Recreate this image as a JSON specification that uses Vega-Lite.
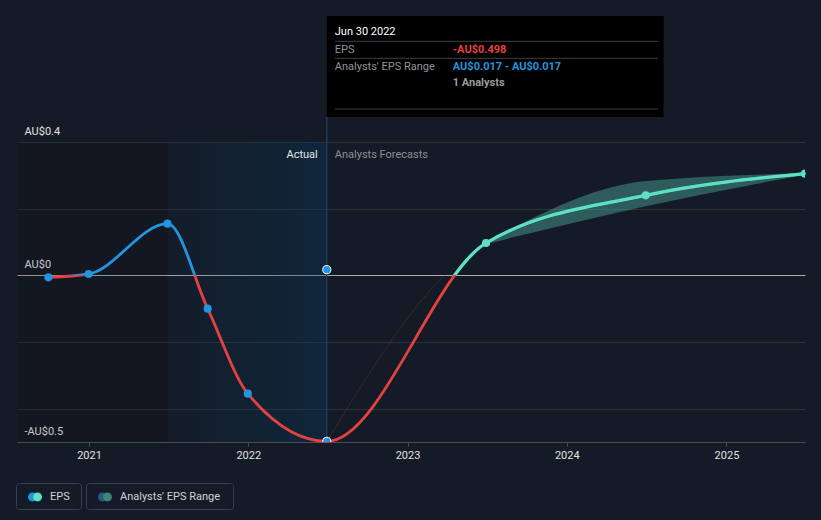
{
  "$schema": "https://vega.github.io/schema/vega-lite/v6.json",
  "width": 788,
  "height": 300,
  "autosize": {"type": "none"},
  "padding": {"left": 17, "top": 142, "right": 16, "bottom": 78},
  "background": "#151b26",
  "config": {"view": {"stroke": null}, "font": "Roboto"},
  "datasets": {
    "eps": [
      {"date": "2020-09-30", "eps": -0.006, "kind": "Actual"},
      {"date": "2020-12-31", "eps": 0.004, "kind": "Actual"},
      {"date": "2021-06-30", "eps": 0.155, "kind": "Actual"},
      {"date": "2021-09-30", "eps": -0.1, "kind": "Actual"},
      {"date": "2021-12-31", "eps": -0.355, "kind": "Actual"},
      {"date": "2022-06-30", "eps": -0.498, "kind": "Actual"},
      {"date": "2023-06-30", "eps": 0.097, "kind": "Forecast"},
      {"date": "2024-06-30", "eps": 0.24, "kind": "Forecast"},
      {"date": "2025-06-30", "eps": 0.305, "kind": "Forecast"}
    ],
    "range": [
      {"date": "2022-06-30", "low": -0.498, "high": -0.498},
      {"date": "2023-06-30", "low": 0.094, "high": 0.1},
      {"date": "2024-06-30", "low": 0.207, "high": 0.283},
      {"date": "2025-06-30", "low": 0.302, "high": 0.306}
    ],
    "est": [
      {"date": "2022-06-30", "eps": 0.017}
    ]
  },
  "data": {"name": "est"},
  "encoding": {
    "x": {
      "field": "date", "type": "temporal", "title": null,
      "scale": {"type": "utc", "domain": [{"year": 2020, "month": 7, "date": 20, "utc": true}, {"year": 2025, "month": 6, "date": 30, "utc": true}]},
      "axis": {"format": "%Y", "tickCount": "year", "domainColor": "#474c54", "tickColor": "#474c54", "tickSize": 4, "labelPadding": 3, "labelColor": "#e2e2e2", "labelFontSize": 11, "grid": false, "labelFlush": false, "title": null}
    },
    "y": {
      "field": "eps", "type": "quantitative", "title": null,
      "scale": {"domain": [-0.5, 0.4], "nice": false, "zero": false},
      "axis": {"values": [-0.5, -0.4, -0.2, 0, 0.2, 0.4], "domain": false, "ticks": false, "tickSize": 0, "labelAlign": "left", "labelPadding": -7, "labelBaseline": "alphabetic", "labelOffset": -8, "labelColor": "#e2e2e2", "labelFontSize": 11, "labelFlush": false, "labelOverlap": false, "labelExpr": "datum.value == 0 ? 'AU$0' : datum.value == 0.4 ? 'AU$0.4' : datum.value == -0.5 ? '-AU$0.5' : ''", "grid": true, "gridColor": {"condition": {"test": "datum.value === 0", "value": "#a9abae"}, "value": "#2b3039"}, "gridWidth": 1, "title": null}
    }
  },
  "resolve": {"scale": {"color": "independent"}},
  "layer": [
    {
      "mark": {"type": "rect", "fill": "rgba(0,0,4,0.13)"},
      "encoding": {
        "x": {"datum": {"year": 2020, "month": 7, "date": 20, "utc": true}, "type": "temporal"},
        "x2": {"datum": {"year": 2021, "month": 6, "date": 30, "utc": true}},
        "y": {"datum": 0.4, "type": "quantitative"},
        "y2": {"datum": -0.5}
      }
    },
    {
      "mark": {"type": "rect", "fill": {"gradient": "linear", "x1": 0, "y1": 0, "x2": 1, "y2": 0, "stops": [{"offset": 0, "color": "rgba(4,58,95,0.05)"}, {"offset": 1, "color": "rgba(4,58,95,0.36)"}]}},
      "encoding": {
        "x": {"datum": {"year": 2021, "month": 6, "date": 30, "utc": true}, "type": "temporal"},
        "x2": {"field": "date"},
        "y": {"datum": 0.4, "type": "quantitative"},
        "y2": {"datum": -0.5}
      }
    },
    {
      "mark": {"type": "rule", "stroke": "#1e3b58", "strokeWidth": 1.5},
      "encoding": {
        "y": {"datum": -0.5, "type": "quantitative"},
        "y2": {"datum": 0.475}
      }
    },
    {
      "data": {"name": "range"},
      "transform": [{"filter": {"field": "date", "gte": {"year": 2023, "month": 6, "date": 1, "utc": true}}}],
      "mark": {"type": "area", "interpolate": "monotone", "fill": "rgba(94,224,199,0.33)"},
      "encoding": {
        "y": {"field": "high", "type": "quantitative", "title": null},
        "y2": {"field": "low"}
      }
    },
    {
      "data": {"name": "range"},
      "mark": {"type": "line", "interpolate": "monotone", "strokeWidth": 1, "stroke": {"gradient": "linear", "x1": 0, "y1": 0, "x2": 0, "y2": 1, "stops": [{"offset": 0, "color": "rgba(94,224,199,0)"}, {"offset": 0.3775, "color": "rgba(94,224,199,0)"}, {"offset": 0.3775, "color": "rgba(150,50,50,0.35)"}, {"offset": 1, "color": "rgba(150,50,50,0.35)"}]}},
      "encoding": {
        "y": {"field": "low", "type": "quantitative", "title": null}
      }
    },
    {
      "data": {"name": "eps"},
      "mark": {"type": "line", "interpolate": "monotone", "strokeWidth": 2.8, "strokeCap": "round", "stroke": {"gradient": "linear", "x1": 0, "y1": 0, "x2": 0, "y2": 1, "stops": [{"offset": 0, "color": "#2394df"}, {"offset": 0.3798, "color": "#2394df"}, {"offset": 0.3798, "color": "#e64141"}, {"offset": 1, "color": "#e64141"}]}},
      "encoding": {}
    },
    {
      "data": {"name": "eps"},
      "transform": [{"filter": {"field": "date", "gte": {"year": 2021, "month": 12, "date": 31, "utc": true}}}],
      "mark": {"type": "line", "interpolate": "monotone", "strokeWidth": 3.2, "stroke": {"gradient": "linear", "x1": 0, "y1": 0, "x2": 0, "y2": 1, "stops": [{"offset": 0, "color": "#5ee0c7"}, {"offset": 0.3798, "color": "#5ee0c7"}, {"offset": 0.3798, "color": "rgba(94,224,199,0)"}, {"offset": 1, "color": "rgba(94,224,199,0)"}]}},
      "encoding": {}
    },
    {
      "data": {"name": "eps"},
      "mark": {"type": "point", "filled": true, "size": 66, "opacity": 1, "stroke": "#ffffff", "clip": true},
      "encoding": {
        "fill": {"condition": {"test": "datum.kind === 'Actual'", "value": "#2394df"}, "value": "#5ee0c7"},
        "strokeWidth": {"condition": {"test": "time(datum.date) === utc(2022,5,30)", "value": 1}, "value": 0}
      }
    },
    {
      "mark": {"type": "point", "filled": true, "size": 66, "opacity": 1, "fill": "#2394df", "stroke": "#ffffff", "strokeWidth": 1}
    },
    {
      "mark": {"type": "text", "text": "Actual", "align": "right", "baseline": "alphabetic", "dx": -9, "dy": 16, "fontSize": 11, "color": "#e6e6e6"},
      "encoding": {
        "y": {"datum": 0.4, "type": "quantitative"}
      }
    },
    {
      "mark": {"type": "text", "text": "Analysts Forecasts", "align": "left", "baseline": "alphabetic", "dx": 8, "dy": 16, "fontSize": 11, "color": "#8a8f96"},
      "encoding": {
        "y": {"datum": 0.4, "type": "quantitative"}
      }
    },
    {
      "mark": {"type": "rect", "fill": "#000000"},
      "encoding": {
        "x2": {"datum": {"year": 2024, "month": 8, "date": 10, "utc": true}},
        "y": {"datum": 0.778, "type": "quantitative"},
        "y2": {"datum": 0.475}
      }
    },
    {
      "mark": {"type": "rule", "stroke": "#3a3f47", "strokeWidth": 1},
      "encoding": {
        "x": {"datum": {"year": 2022, "month": 7, "date": 19, "utc": true}, "type": "temporal"},
        "x2": {"datum": {"year": 2024, "month": 7, "date": 28, "utc": true}},
        "y": {"datum": 0.702, "type": "quantitative"}
      }
    },
    {
      "mark": {"type": "rule", "stroke": "#3a3f47", "strokeWidth": 1},
      "encoding": {
        "x": {"datum": {"year": 2022, "month": 7, "date": 19, "utc": true}, "type": "temporal"},
        "x2": {"datum": {"year": 2024, "month": 7, "date": 28, "utc": true}},
        "y": {"datum": 0.651, "type": "quantitative"}
      }
    },
    {
      "mark": {"type": "rule", "stroke": "#3a3f47", "strokeWidth": 1},
      "encoding": {
        "x": {"datum": {"year": 2022, "month": 7, "date": 19, "utc": true}, "type": "temporal"},
        "x2": {"datum": {"year": 2024, "month": 7, "date": 28, "utc": true}},
        "y": {"datum": 0.499, "type": "quantitative"}
      }
    },
    {
      "mark": {"type": "text", "text": "Jun 30 2022", "align": "left", "baseline": "alphabetic", "dx": 8, "fontSize": 11, "color": "#ffffff"},
      "encoding": {"y": {"datum": 0.721, "type": "quantitative"}}
    },
    {
      "mark": {"type": "text", "text": "EPS", "align": "left", "baseline": "alphabetic", "dx": 8, "fontSize": 11, "color": "#8f949a"},
      "encoding": {"y": {"datum": 0.668, "type": "quantitative"}}
    },
    {
      "mark": {"type": "text", "text": "-AU$0.498", "align": "left", "baseline": "alphabetic", "dx": 126, "fontSize": 11, "fontWeight": "bold", "color": "#e64141"},
      "encoding": {"y": {"datum": 0.668, "type": "quantitative"}}
    },
    {
      "mark": {"type": "text", "text": "Analysts' EPS Range", "align": "left", "baseline": "alphabetic", "dx": 8, "fontSize": 11, "color": "#8f949a"},
      "encoding": {"y": {"datum": 0.616, "type": "quantitative"}}
    },
    {
      "mark": {"type": "text", "text": "AU$0.017 - AU$0.017", "align": "left", "baseline": "alphabetic", "dx": 126, "fontSize": 11, "fontWeight": "bold", "color": "#2394df"},
      "encoding": {"y": {"datum": 0.616, "type": "quantitative"}}
    },
    {
      "mark": {"type": "text", "text": "1 Analysts", "align": "left", "baseline": "alphabetic", "dx": 126, "fontSize": 11, "fontWeight": "bold", "color": "#9a9a9a"},
      "encoding": {"y": {"datum": 0.568, "type": "quantitative"}}
    },
    {
      "mark": {"type": "point", "filled": true, "opacity": 0},
      "encoding": {
        "color": {"datum": "EPS", "type": "nominal", "scale": {"range": ["#2394df"]},
          "legend": {"orient": "none", "legendX": -1, "legendY": 341, "title": null, "padding": 7, "strokeColor": null,
            "symbolType": "M-1,0A0.64,0.64,0,1,0,0.28,0A0.64,0.64,0,1,0,-1,0Z",
            "symbolSize": 196, "symbolOffset": 5, "symbolStrokeWidth": 0, "symbolOpacity": 1,
            "labelOffset": 8, "labelFontSize": 11, "labelColor": "#cfd3d8", "labelFont": "Roboto"}
        }
      }
    },
    {
      "mark": {"type": "point", "filled": true, "opacity": 0},
      "encoding": {
        "color": {"datum": "EPS", "type": "nominal", "scale": {"range": ["#5ee0c7"]},
          "legend": {"orient": "none", "legendX": -1, "legendY": 341, "title": null, "padding": 7, "strokeColor": "#3b414b", "cornerRadius": 3,
            "symbolType": "M-0.28,0A0.64,0.64,0,1,0,1,0A0.64,0.64,0,1,0,-0.28,0Z",
            "symbolSize": 196, "symbolOffset": 5, "symbolStrokeWidth": 0, "symbolOpacity": 1,
            "labelOffset": 32, "labelFontSize": 11, "labelExpr": "''", "labelFont": "Roboto"}
        }
      }
    },
    {
      "mark": {"type": "point", "filled": true, "opacity": 0},
      "encoding": {
        "color": {"datum": "Analysts' EPS Range", "type": "nominal", "scale": {"range": ["#245c85"]},
          "legend": {"orient": "none", "legendX": 69, "legendY": 341, "title": null, "padding": 7, "strokeColor": null,
            "symbolType": "M-1,0A0.64,0.64,0,1,0,0.28,0A0.64,0.64,0,1,0,-1,0Z",
            "symbolSize": 196, "symbolOffset": 5, "symbolStrokeWidth": 0, "symbolOpacity": 1,
            "labelOffset": 8, "labelFontSize": 11, "labelColor": "#cfd3d8", "labelFont": "Roboto"}
        }
      }
    },
    {
      "mark": {"type": "point", "filled": true, "opacity": 0},
      "encoding": {
        "color": {"datum": "Analysts' EPS Range", "type": "nominal", "scale": {"range": ["#3e8279"]},
          "legend": {"orient": "none", "legendX": 69, "legendY": 341, "title": null, "padding": 7, "strokeColor": "#3b414b", "cornerRadius": 3,
            "symbolType": "M-0.28,0A0.64,0.64,0,1,0,1,0A0.64,0.64,0,1,0,-0.28,0Z",
            "symbolSize": 196, "symbolOffset": 5, "symbolStrokeWidth": 0, "symbolOpacity": 1,
            "labelOffset": 114, "labelFontSize": 11, "labelExpr": "''", "labelFont": "Roboto"}
        }
      }
    }
  ]
}
